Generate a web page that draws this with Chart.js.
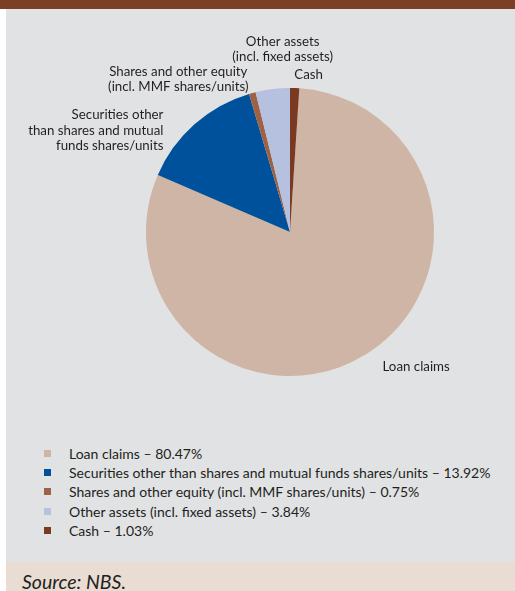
<!DOCTYPE html>
<html>
<head>
<meta charset="utf-8">
<script src="https://cdn.jsdelivr.net/npm/chart.js@4/dist/chart.umd.min.js"></script>
<style>
  body { margin: 0; width: 515px; height: 591px; position: relative; background: #fff; overflow: hidden; font-family: Lato, sans-serif; color: #231f20; }
  #topbar { position: absolute; left: 0; top: 0; width: 515px; height: 9px; background: #7c3f26; }
  #panel { position: absolute; left: 6px; top: 9px; width: 509px; height: 553px; background: #e1e2e4; }
  #chartBox { position: absolute; left: 0; top: 0; width: 515px; height: 440px; }
  #legend { position: absolute; left: 0; top: 444px; width: 515px; }
  .row { position: relative; height: 19.2px; line-height: 19.2px; font-size: 14px; white-space: nowrap; }
  .sw { position: absolute; left: 44px; top: 6px; width: 7px; height: 7px; }
  .txt { position: absolute; left: 69px; top: 0; }
  #source { position: absolute; left: 6px; top: 562px; width: 509px; height: 29px; background: #e8dcd3; }
  #source span { position: absolute; left: 16px; top: 8px; font-size: 19.5px; font-style: italic; line-height: 24px; }
</style>
</head>
<body>
<div id="topbar"></div>
<div id="panel"></div>
<div id="chartBox"><canvas id="myChart" width="515" height="440"></canvas></div>
<div id="legend"></div>
<div id="source"><span>Source: NBS.</span></div>
<script>
const categories = [
  "Loan claims",
  "Securities other than shares and mutual funds shares/units",
  "Shares and other equity (incl. MMF shares/units)",
  "Other assets (incl. fixed assets)",
  "Cash"
];
const shares = [80.47, 13.92, 0.75, 3.84, 1.03];
const colors = ["#cfb5a5", "#00519b", "#9d6246", "#b6c0df", "#7a3a21"];
const sliceLabels = [
  ["Loan claims"],
  ["Securities other", "than shares and mutual", "funds shares/units"],
  ["Shares and other equity", "(incl. MMF shares/units)"],
  ["Other assets", "(incl. fixed assets)"],
  ["Cash"]
];
// label offset from the slice's outer mid point
const labelOffsets = [
  { dx: 51, dy: 12, align: "center" },
  { dx: -31, dy: 6, align: "right" },
  { dx: -74, dy: -14, align: "center" },
  { dx: 10, dy: -40, align: "center" },
  { dx: 14, dy: -13, align: "center" }
];

// start so that Cash ends at 12 o'clock
const total = shares.reduce((a, b) => a + b, 0);
const startRotation = shares[shares.length - 1] / total * 360;

const lineH = 15.5;
const labelPlugin = {
  id: "sliceLabels",
  afterDatasetsDraw(chart) {
    const ctx = chart.ctx;
    const arcs = chart.getDatasetMeta(0).data;
    ctx.save();
    ctx.font = "13.3px Lato";
    ctx.fillStyle = "#231f20";
    ctx.textBaseline = "middle";
    arcs.forEach((arc, i) => {
      const p = arc.getProps(["x", "y", "startAngle", "endAngle", "outerRadius"], true);
      const mid = (p.startAngle + p.endAngle) / 2;
      const ax = p.x + Math.cos(mid) * p.outerRadius;
      const ay = p.y + Math.sin(mid) * p.outerRadius;
      const o = labelOffsets[i];
      const lines = sliceLabels[i];
      ctx.textAlign = o.align;
      const top = ay + o.dy - (lines.length - 1) * lineH / 2;
      lines.forEach((t, k) => ctx.fillText(t, ax + o.dx, top + k * lineH));
    });
    ctx.restore();
  }
};

new Chart(document.getElementById("myChart").getContext("2d"), {
  type: "pie",
  data: {
    labels: categories,
    datasets: [{
      data: shares,
      backgroundColor: colors,
      borderWidth: 0
    }]
  },
  options: {
    responsive: false,
    animation: false,
    rotation: startRotation,
    layout: { padding: { left: 146, right: 81, top: 88, bottom: 64 } },
    plugins: {
      legend: { display: false },
      tooltip: { enabled: false }
    }
  },
  plugins: [labelPlugin]
});

// legend below the pie
const legend = document.getElementById("legend");
categories.forEach((c, i) => {
  const row = document.createElement("div");
  row.className = "row";
  row.innerHTML = '<div class="sw" style="background:' + colors[i] + '"></div>' +
    '<div class="txt">' + c + " \u2013 " + shares[i].toFixed(2) + "%</div>";
  legend.appendChild(row);
});
</script>
</body>
</html>
